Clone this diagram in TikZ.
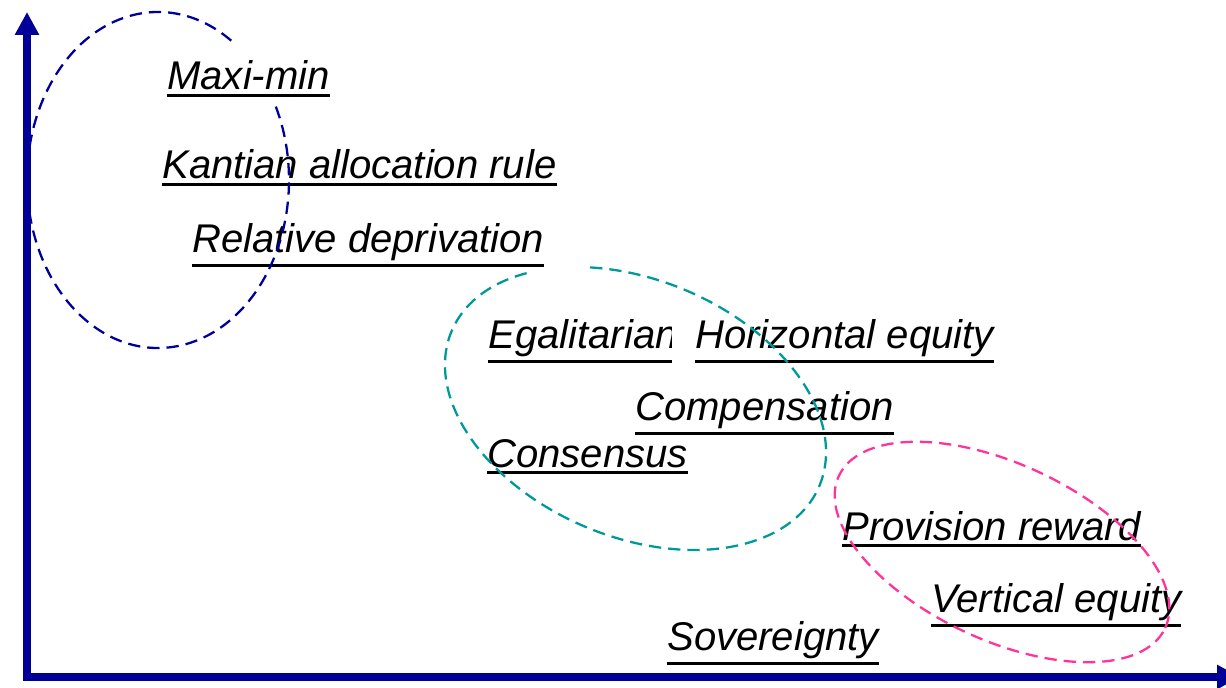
\documentclass[tikz,border=0pt]{standalone}
\usepackage{fontspec}
\setmainfont{Liberation Sans}
\usetikzlibrary{arrows.meta}

\definecolor{axisblue}{HTML}{000099}
\definecolor{ringblue}{HTML}{000099}
\definecolor{ringteal}{HTML}{009999}
\definecolor{ringpink}{HTML}{FF3399}

\newcommand{\uterm}[1]{\vtop{\hbox{\itshape #1}\kern1.9pt\hrule height1.8pt}}

\tikzset{
	term/.style={anchor=base west, inner sep=0pt, font=\fontsize{22.8}{27}\selectfont},
	cover/.style={fill=white, inner xsep=0.46cm},
	ring/.style={line width=1.3pt, dash pattern=on 7pt off 4pt},
	axis/.style={line width=4pt, draw=axisblue, line join=miter,
		{Triangle[length=13pt,width=13pt]}-{Triangle[length=13pt,width=13pt]}}
}

\begin{document}
\begin{tikzpicture}[x=0.02cm, y=0.02cm]
	\useasboundingbox (0,0) rectangle (1226,687);
	
	% axes
	\coordinate (origin) at (27,10);
	\coordinate (ytip) at (27,675);
	\coordinate (xtip) at (1240,10);
	\draw[axis] (ytip) -- (origin) -- (xtip);
	
	% terms
	\node[term] (maximin) at (167,597) {\uterm{Maxi-min}};
	\node[term] (kantian) at (162,508) {\uterm{Kantian allocation rule}};
	\node[term] (relative) at (192,435) {\uterm{Relative deprivation}};
	\node[term] (egalitarian) at (488,339) {\uterm{Egalitarian}};
	\node[term, cover] (horizontal) at (672,339) {\uterm{Horizontal equity}};
	\node[term] (compensation) at (635,267) {\uterm{Compensation}};
	\node[term] (consensus) at (487,220) {\uterm{Consensus}};
	\node[term] (provision) at (842,147) {\uterm{Provision reward}};
	\node[term] (vertical) at (931,75) {\uterm{Vertical equity}};
	\node[term] (sovereignty) at (667,37) {\uterm{Sovereignty}};
	
	% groups
	\draw[ring, draw=ringblue] (158,507) ++(56:131 and 168)
		arc[start angle=56, end angle=386, x radius=131, y radius=168];
	\begin{scope}[shift={(635.5,278.5)}, rotate=-22.8]
		\draw[ring, draw=ringteal] (140:199.5 and 128.5)
			arc[start angle=140, end angle=480, x radius=199.5, y radius=128.5];
	\end{scope}
	\draw[ring, draw=ringpink, rotate around={-25:(1002,135)}] (1002,135)
		ellipse[x radius=180, y radius=88];
\end{tikzpicture}
\end{document}
